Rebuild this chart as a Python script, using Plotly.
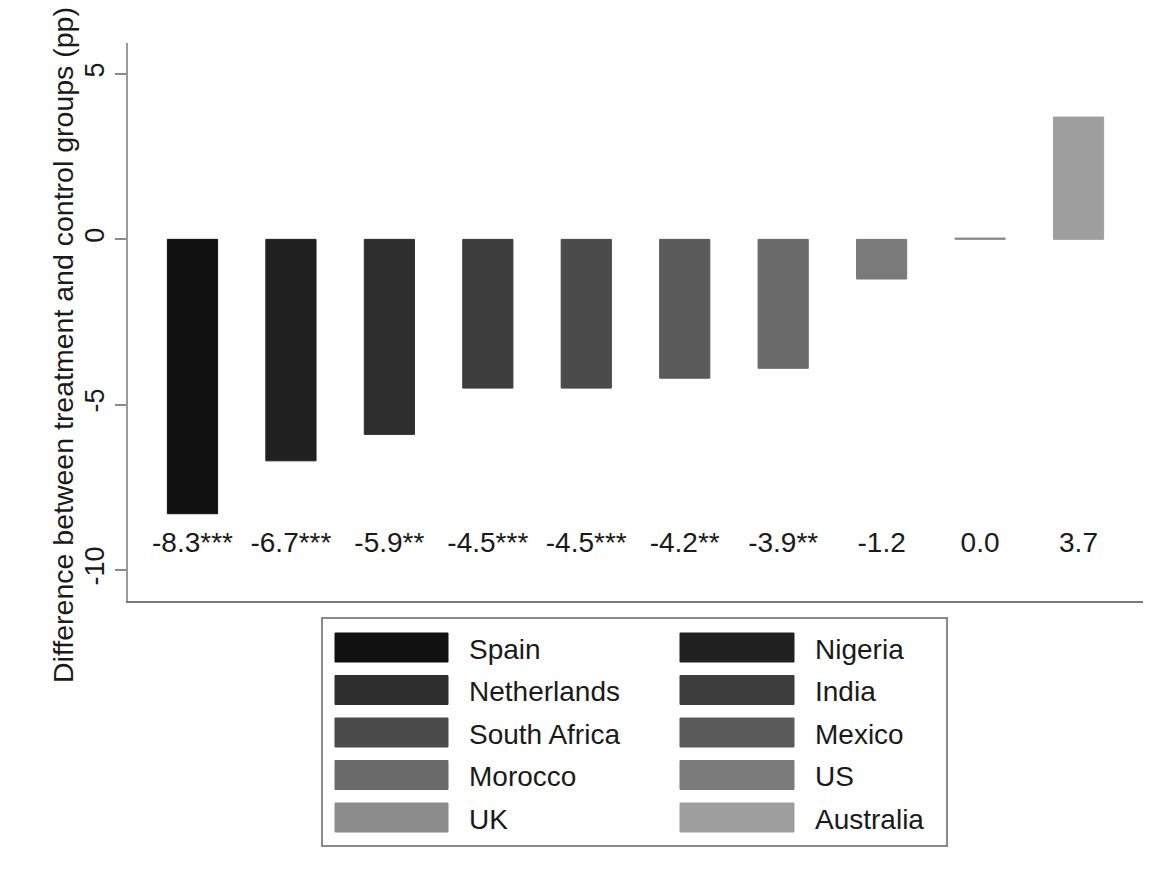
import plotly.graph_objects as go

# Treatment effect by country (percentage points) and significance stars
countries = ["Spain", "Nigeria", "Netherlands", "India", "South Africa",
             "Mexico", "Morocco", "US", "UK", "Australia"]
effects = [-8.3, -6.7, -5.9, -4.5, -4.5, -4.2, -3.9, -1.2, 0.04, 3.7]
stars = ["***", "***", "**", "***", "***", "**", "**", "", "", ""]
bar_colors = ["#111111", "#202020", "#2e2e2e", "#3d3d3d", "#4b4b4b",
              "#5a5a5a", "#6a6a6a", "#7a7a7a", "#8c8c8c", "#9e9e9e"]
y_ticks = [-10, -5, 0, 5]
y_ticktext = ["-10", "-5", "0", "5"]
label_level = -9.24

FONT = "Liberation Sans, Arial, Helvetica, sans-serif"
TXT = "#1a1a1a"
W, H = 1161, 879
L, R, T, B = 128, 1143, 43, 601


def px(x):
    return (x - L) / (R - L)


def py(y):
    return (B - y) / (B - T)


fig = go.Figure()

fig.add_trace(go.Bar(
    x=countries, y=effects, width=0.51,
    marker=dict(color=bar_colors, line=dict(color=bar_colors, width=1)),
    showlegend=False, hoverinfo="x+y",
))

labels = [f"{v:.1f}{s}" for v, s in zip(effects, stars)]
fig.add_trace(go.Scatter(
    x=countries, y=[label_level] * len(countries), mode="text",
    text=labels, textposition="middle center",
    textfont=dict(family=FONT, size=28, color=TXT),
    showlegend=False, hoverinfo="skip", cliponaxis=False,
))

# Boxed two-column legend drawn below the plot
shapes = [dict(type="rect", xref="paper", yref="paper",
               x0=px(322), x1=px(947), y0=py(618), y1=py(846),
               line=dict(color="#8a8a8a", width=2), fillcolor="rgba(0,0,0,0)")]
annotations = []
sw_x = [(335, 448, 467), (680, 794, 813)]
for i, (name, col) in enumerate(zip(countries, bar_colors)):
    c, r = i % 2, i // 2
    x0, x1, tx = sw_x[c]
    top = 633 + 42.5 * r
    shapes.append(dict(type="rect", xref="paper", yref="paper",
                       x0=px(x0), x1=px(x1), y0=py(top), y1=py(top + 29),
                       line=dict(color=col, width=1), fillcolor=col))
    annotations.append(dict(xref="paper", yref="paper", x=px(tx), y=py(top + 16),
                            text=name, showarrow=False, xanchor="left", yanchor="middle",
                            font=dict(family=FONT, size=28, color=TXT)))

annotations.append(dict(xref="paper", yref="paper", x=px(63), y=py(345),
                        text="Difference between treatment and control groups (pp)",
                        textangle=-90, showarrow=False, xanchor="center", yanchor="middle",
                        font=dict(family=FONT, size=28.5, color=TXT)))

fig.update_layout(
    width=W, height=H,
    margin=dict(l=L, r=W - R, t=T, b=H - B, pad=0),
    paper_bgcolor="white", plot_bgcolor="white",
    shapes=shapes, annotations=annotations,
    bargap=0.49,
    xaxis=dict(type="category", range=[-0.655, 9.655], showticklabels=False,
               ticks="", showgrid=False, zeroline=False, showline=True,
               linecolor="#7a7a7a", linewidth=2),
    yaxis=dict(range=[-10.94, 5.94], tickvals=y_ticks, ticktext=y_ticktext,
               tickangle=-90, ticks="outside", ticklen=11, tickwidth=2,
               tickcolor="#8a8a8a", showgrid=False, zeroline=False,
               showline=True, linecolor="#9a9a9a", linewidth=2,
               tickfont=dict(family=FONT, size=27, color=TXT)),
)

fig.write_html("out.html")
